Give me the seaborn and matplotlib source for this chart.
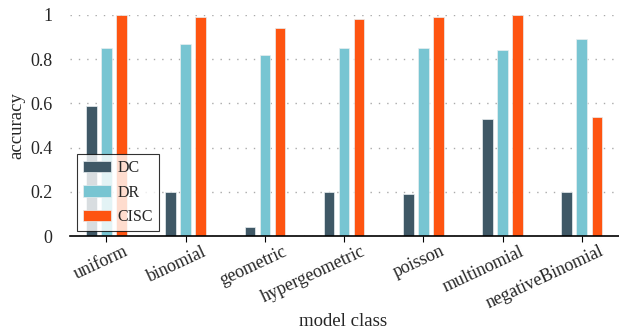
import pandas as pd
import seaborn as sns
import matplotlib.pyplot as plt
from matplotlib.transforms import ScaledTranslation

# Data
models = ["uniform", "binomial", "geometric", "hypergeometric", "poisson", "multinomial", "negativeBinomial"]
dc = [0.59, 0.20, 0.04, 0.20, 0.19, 0.53, 0.20]
dr = [0.85, 0.87, 0.82, 0.85, 0.85, 0.84, 0.89]
cisc = [1.00, 0.99, 0.94, 0.98, 0.99, 1.00, 0.54]
methods = ["DC", "DR", "CISC"]
colors = ["#3f5866", "#78c5d2", "#fe5411"]

rows = []
for name, vals in zip(methods, [dc, dr, cisc]):
    for m, v in zip(models, vals):
        rows.append({"model class": m, "accuracy": v, "method": name})
df = pd.DataFrame(rows)

sns.set_style("white")
plt.rcParams["font.family"] = ["Liberation Serif", "DejaVu Serif"]

fig = plt.figure(figsize=(6.19, 3.31), dpi=100)
ax = fig.add_axes([0.113, 0.287, 0.887, 0.668])

sns.barplot(data=df, x="model class", y="accuracy", hue="method", order=models,
            hue_order=methods, palette=colors, saturation=1, width=0.57, gap=0.3,
            edgecolor="#e8eef0", linewidth=0.5, ax=ax)

ax.set_ylim(0, 1)
ax.set_xlim(-0.46, 6.47)
ax.set_yticks([0, 0.2, 0.4, 0.6, 0.8, 1.0])
ax.set_yticklabels(["0", "0.2", "0.4", "0.6", "0.8", "1"], fontsize=13)
ax.yaxis.grid(True, linestyle=(0, (1, 5)), color="#aaaaaa", linewidth=1.0)
ax.set_axisbelow(True)
for s in ["top", "right", "left"]:
    ax.spines[s].set_visible(False)
ax.spines["bottom"].set_color("black")
ax.spines["bottom"].set_linewidth(1.2)
ax.tick_params(axis="x", bottom=True, length=4, width=0.8, color="black", pad=1)
ax.tick_params(axis="y", left=False, pad=9)

# rotated tick labels, right end a bit to the right of the tick
shift = ScaledTranslation(0.17, 0, fig.dpi_scale_trans)
for lab in ax.get_xticklabels():
    lab.set_rotation(25)
    lab.set_ha("right")
    lab.set_va("top")
    lab.set_rotation_mode("anchor")
    lab.set_fontsize(13)
    lab.set_transform(lab.get_transform() + shift)

ax.set_xlabel("model class", fontsize=13.5, va="top")
ax.xaxis.set_label_coords(0.497, -0.35)
ax.set_ylabel("accuracy", fontsize=13.5)
ax.yaxis.set_label_coords(-0.082, 0.5)

leg = ax.legend(loc="lower left", bbox_to_anchor=(0.013, 0.023), borderaxespad=0,
                fontsize=11.5, frameon=True, fancybox=False, edgecolor="black",
                handlelength=1.8, handleheight=0.7, handletextpad=0.4,
                borderpad=0.35, labelspacing=0.55)
leg.get_frame().set_linewidth(0.8)

fig.savefig("out.png", dpi=100)
